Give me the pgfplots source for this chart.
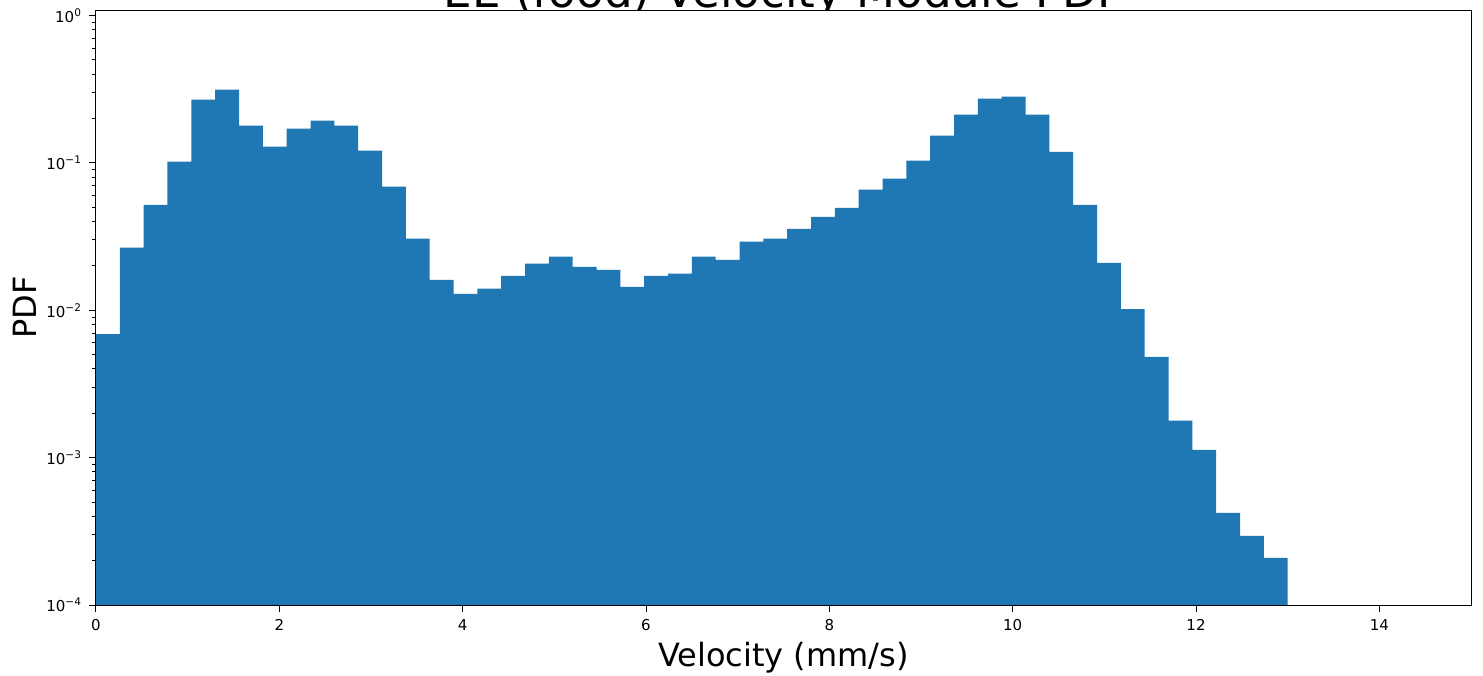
\documentclass[border=0pt]{standalone}
\usepackage{fontspec}
\setmainfont{DejaVu Sans}
\usepackage{pgfplots}
\pgfplotsset{compat=1.18}
\definecolor{mplblue}{HTML}{1F77B4}
\begin{document}
\begin{tikzpicture}
\useasboundingbox (-48pt,-35pt) rectangle (693.5pt,302.5pt);
\node[anchor=base, font=\fontsize{22.6}{27}\selectfont] at (343.75pt,298.5pt) {EE (food) Velocity Module PDF};
\begin{axis}[
  at={(0,0)}, anchor=south west,
  scale only axis, width=687.5pt, height=297.5pt,
  xmin=0, xmax=15, ymin=1e-4, ymax=1.09,
  ymode=log, log origin=infty,
  axis background/.style={fill=white},
  axis line style={line width=0.5pt},
  tick align=outside, xtick pos=bottom, ytick pos=left,
  xtick={0,2,4,6,8,10,12,14},
  ytick={1e-4,1e-3,1e-2,1e-1,1},
  yticklabels={10\textsuperscript{−4},10\textsuperscript{−3},10\textsuperscript{−2},10\textsuperscript{−1},10\textsuperscript{0}},
  major tick length=3.5pt, minor tick length=2pt,
  tick style={black, line width=0.5pt},
  /pgf/number format/assume math mode=true,
  ticklabel style={font=\fontsize{7.5}{9}\selectfont},
  xlabel={Velocity (mm/s)}, ylabel={PDF},
  label style={font=\fontsize{16}{19}\selectfont},
  xlabel style={yshift=1pt},
  ylabel style={yshift=-2pt},
  axis on top,
]
\addplot[ybar interval, fill=mplblue, draw=none] coordinates {
(0.00,0.0069) (0.26,0.0266) (0.52,0.052) (0.78,0.102) (1.04,0.269)
(1.30,0.314) (1.56,0.179) (1.82,0.129) (2.08,0.171) (2.34,0.194)
(2.60,0.179) (2.86,0.121) (3.12,0.069) (3.38,0.0306) (3.64,0.0161)
(3.90,0.0129) (4.16,0.0140) (4.42,0.0171) (4.68,0.0207) (4.94,0.0231)
(5.20,0.0197) (5.46,0.0188) (5.72,0.0144) (5.98,0.0171) (6.24,0.0177)
(6.50,0.0231) (6.76,0.0220) (7.02,0.0292) (7.28,0.0306) (7.54,0.0357)
(7.80,0.0431) (8.06,0.0496) (8.32,0.0658) (8.58,0.0781) (8.84,0.1036)
(9.10,0.153) (9.36,0.213) (9.62,0.273) (9.88,0.282) (10.14,0.213)
(10.40,0.119) (10.66,0.052) (10.92,0.0210) (11.18,0.0102) (11.44,0.00483)
(11.70,0.00178) (11.96,0.00113) (12.22,0.000422) (12.48,0.000294) (12.74,0.000209)
(13.00,0.000209)
};
\end{axis}
\end{tikzpicture}
\end{document}
